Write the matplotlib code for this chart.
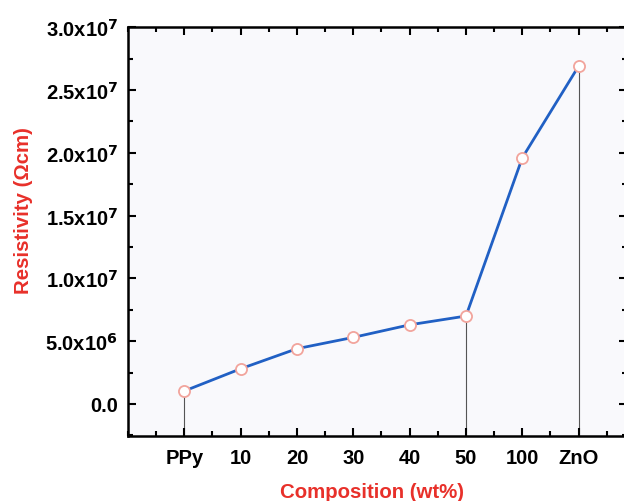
import numpy as np
import matplotlib.pyplot as plt
from matplotlib.ticker import MultipleLocator, FixedLocator

# composition categories and measured resistivity
categories = ['PPy', '10', '20', '30', '40', '50', '100', 'ZnO']
resistivity = [1.03e6, 2.8e6, 4.4e6, 5.3e6, 6.3e6, 7.0e6, 1.96e7, 2.69e7]
drop_cats = ['PPy', '50', 'ZnO']

plt.rcParams['font.family'] = ['Liberation Sans', 'DejaVu Sans']

fig = plt.figure(figsize=(6.24, 5.02), dpi=100)
fig.patch.set_facecolor('white')
ax = fig.add_axes([0.205, 0.1295, 0.80, 0.8145])
ax.set_facecolor('#f9f9fc')

x = np.arange(1, len(categories) + 1)
for c in drop_cats:
    i = categories.index(c)
    ax.plot([x[i], x[i]], [-2.55e6, resistivity[i]], color='#555555', lw=0.8, zorder=1)

ax.plot(x, resistivity, color='#2160c4', lw=2.0, zorder=2)
ax.plot(x, resistivity, 'o', ms=8, mfc='white', mec='#f2a49c', mew=1.3, zorder=3)

ax.set_xlim(0, 8.86)
ax.set_ylim(-2.55e6, 3.0e7)
ax.xaxis.set_major_locator(FixedLocator(x))
ax.set_xticklabels(categories)
ax.xaxis.set_minor_locator(MultipleLocator(0.5))
ax.yaxis.set_major_locator(MultipleLocator(5e6))
ax.yaxis.set_minor_locator(MultipleLocator(2.5e6))

ylabels = []
for v in ax.get_yticks():
    if v < 0 or v > 3.0e7:
        ylabels.append('')
    elif v == 0:
        ylabels.append('0.0')
    else:
        exp = int(np.floor(np.log10(v)))
        ylabels.append(r'%.1fx10$^{\mathbf{%d}}$' % (v / 10**exp, exp))
ax.set_yticks(ax.get_yticks())
ax.set_yticklabels(ylabels)
ax.set_ylim(-2.55e6, 3.0e7)

ax.tick_params(which='both', direction='in', top=True, right=True, width=1.5,
               labelsize=14.5)
ax.tick_params(axis='x', pad=9)
ax.tick_params(axis='y', pad=7)
ax.tick_params(which='major', length=6)
ax.tick_params(which='minor', length=3.5)
for lab in ax.get_xticklabels() + ax.get_yticklabels():
    lab.set_fontweight('bold')
for s in ax.spines.values():
    s.set_linewidth(1.8)

ax.set_xlabel('Composition (wt%)', color='#e8302a', fontsize=14.7, fontweight='bold')
ax.set_ylabel('Resistivity (\u03a9cm)', color='#e8302a', fontsize=14.7, fontweight='bold')
ax.xaxis.set_label_coords(0.489, -0.113)
ax.yaxis.set_label_coords(-0.19, 0.553)

fig.savefig('out.png', dpi=100)
